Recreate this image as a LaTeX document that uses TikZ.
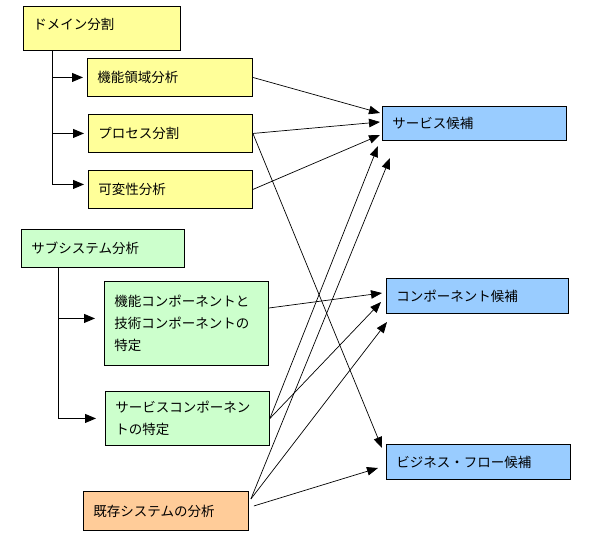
\documentclass[tikz,border=0pt]{standalone}
\usepackage{fontspec}
\setmainfont{Noto Sans CJK JP}
\usetikzlibrary{arrows.meta}
\definecolor{yel}{RGB}{255,255,153}
\definecolor{grn}{RGB}{204,255,204}
\definecolor{org}{RGB}{255,204,153}
\definecolor{blu}{RGB}{153,204,255}
\begin{document}
\begin{tikzpicture}[x=1pt,y=-1pt,
  box/.style={draw=black, line width=0.9pt, anchor=north west, inner xsep=10pt, inner ysep=2pt, align=left, font=\fontsize{13.5pt}{22pt}\selectfont},
  conn/.style={line width=0.7pt, -{Triangle[length=11pt,width=8.5pt]}},
  tree/.style={line width=0.9pt, -{Triangle[length=11pt,width=9pt]}}]
\useasboundingbox (0,0) rectangle (595,546);
\fill[white] (0,0) rectangle (595,546);

% left column boxes
\node[box, fill=yel, text width=137pt, minimum height=44pt, text depth=10pt] (dom) at (23,6) {ドメイン分割};
\node[box, fill=yel, text width=145pt, minimum height=38pt] (kino) at (87,58) {機能領域分析};
\node[box, fill=yel, text width=144pt, minimum height=38pt] (proc) at (88,114) {プロセス分割};
\node[box, fill=yel, text width=144pt, minimum height=38pt] (kahen) at (88,170) {可変性分析};
\node[box, fill=grn, text width=143pt, minimum height=38pt] (sub) at (21,229) {サブシステム分析};
\node[box, fill=grn, text width=144pt, minimum height=84pt] (kcomp) at (104,281) {機能コンポーネントと\\技術コンポーネントの\\特定};
\node[box, fill=grn, text width=144pt, minimum height=54pt] (scomp) at (105,391) {サービスコンポーネン\\トの特定};
\node[box, fill=org, text width=145pt, minimum height=39pt] (kizon) at (83,491) {既存システムの分析};

% right column boxes
\node[box, fill=blu, text width=164pt, minimum height=34pt] (svc) at (382,106) {サービス候補};
\node[box, fill=blu, text width=162pt, minimum height=35pt] (comp) at (386,278) {コンポーネント候補};
\node[box, fill=blu, text width=164pt, minimum height=35pt] (biz) at (386,444) {ビジネス・フロー候補};

% tree: domain
\coordinate (d0) at ([xshift=29pt]dom.south west);
\draw[tree] (d0) |- ([xshift=-4pt,yshift=5pt]kahen.west);
\draw[tree] (d0 |- kino.west) -- ([xshift=-4pt]kino.west);
\draw[tree] (d0 |- proc.west) -- ([xshift=-4pt]proc.west);

% tree: subsystem
\coordinate (s0) at ([xshift=37pt]sub.south west);
\coordinate (kcw) at ([xshift=-9pt,yshift=5pt]kcomp.west);
\draw[tree] (s0) |- ([xshift=-9pt]scomp.west);
\draw[tree] (s0 |- kcw) -- (kcw);

% connectors
\draw[conn] (kino.east) -- ([shift={(-2,7)}]svc.north west);
\draw[conn] (proc.east) -- ([shift={(-2,16)}]svc.north west);
\draw[conn] (kahen.east) -- ([shift={(-2,29)}]svc.north west);
\draw[conn] (scomp.east) -- ([shift={(-4,40)}]svc.north west);
\draw[conn] ([shift={(2,-12)}]kizon.east) -- ([shift={(8,52)}]svc.north west);
\draw[conn] ([shift={(0,27)}]kcomp.north east) -- ([shift={(-4,15)}]comp.north west);
\draw[conn] (scomp.east) -- ([shift={(-5,24)}]comp.north west);
\draw[conn] ([shift={(2,-12)}]kizon.east) -- ([shift={(1,44)}]comp.north west);
\draw[conn] (proc.east) -- ([shift={(-4,4)}]biz.north west);
\draw[conn] ([shift={(5,-5)}]kizon.east) -- ([shift={(-8,24)}]biz.north west);
\end{tikzpicture}
\end{document}
